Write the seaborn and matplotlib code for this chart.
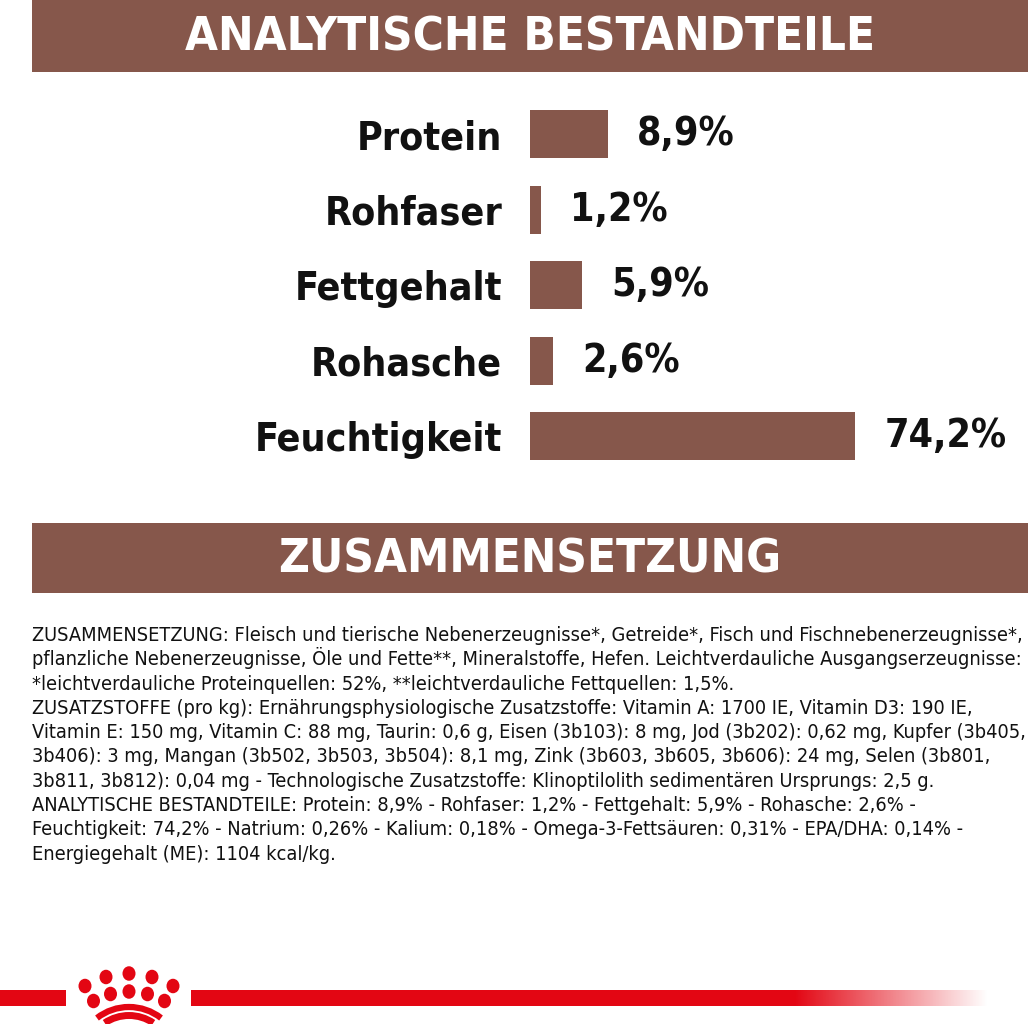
import numpy as np
import matplotlib
matplotlib.use('Agg')
import matplotlib.pyplot as plt
import seaborn as sns
from matplotlib import font_manager as fm
from matplotlib.patches import Rectangle, Ellipse, Arc

categories = ['Protein', 'Rohfaser', 'Fettgehalt', 'Rohasche', 'Feuchtigkeit']
values = [8.9, 1.2, 5.9, 2.6, 74.2]
value_labels = ['8,9%', '1,2%', '5,9%', '2,6%', '74,2%']

header_top = 'ANALYTISCHE BESTANDTEILE'
header_bottom = 'ZUSAMMENSETZUNG'
body_lines = [
    'ZUSAMMENSETZUNG: Fleisch und tierische Nebenerzeugnisse*, Getreide*, Fisch und Fischnebenerzeugnisse*,',
    'pflanzliche Nebenerzeugnisse, Öle und Fette**, Mineralstoffe, Hefen. Leichtverdauliche Ausgangserzeugnisse:',
    '*leichtverdauliche Proteinquellen: 52%, **leichtverdauliche Fettquellen: 1,5%.',
    'ZUSATZSTOFFE (pro kg): Ernährungsphysiologische Zusatzstoffe: Vitamin A: 1700 IE, Vitamin D3: 190 IE,',
    'Vitamin E: 150 mg, Vitamin C: 88 mg, Taurin: 0,6 g, Eisen (3b103): 8 mg, Jod (3b202): 0,62 mg, Kupfer (3b405,',
    '3b406): 3 mg, Mangan (3b502, 3b503, 3b504): 8,1 mg, Zink (3b603, 3b605, 3b606): 24 mg, Selen (3b801,',
    '3b811, 3b812): 0,04 mg - Technologische Zusatzstoffe: Klinoptilolith sedimentären Ursprungs: 2,5 g.',
    'ANALYTISCHE BESTANDTEILE: Protein: 8,9% - Rohfaser: 1,2% - Fettgehalt: 5,9% - Rohasche: 2,6% -',
    'Feuchtigkeit: 74,2% - Natrium: 0,26% - Kalium: 0,18% - Omega-3-Fettsäuren: 0,31% - EPA/DHA: 0,14% -',
    'Energiegehalt (ME): 1104 kcal/kg.',
]

brown = '#86574b'
red = '#e30613'
ink = '#111111'

sns.set_theme(style='white')


def has_font(name, condensed=False):
    for f in fm.fontManager.ttflist:
        if f.name == name and (not condensed or str(f.stretch) not in ('normal', '500')):
            return True
    return False


if has_font('DejaVu Sans', condensed=True):
    fam, stretch = 'DejaVu Sans', 'condensed'
elif has_font('DejaVu Sans Condensed'):
    fam, stretch = 'DejaVu Sans Condensed', 'normal'
elif has_font('Liberation Sans Narrow'):
    fam, stretch = 'Liberation Sans Narrow', 'normal'
else:
    fam, stretch = 'Roboto', 'normal'
plt.rcParams['font.family'] = [fam, 'DejaVu Sans']
plt.rcParams['font.stretch'] = stretch

fig = plt.figure(figsize=(10.28, 10.24), dpi=100)
renderer = fig.canvas.get_renderer()


def text_width(txt, size, weight='normal'):
    t = fig.text(0, 0, txt, fontsize=size, weight=weight, stretch=stretch)
    w = t.get_window_extent(renderer).width
    t.remove()
    return w


def fit_size(txt, target_px, weight='normal', base=20):
    return base * target_px / text_width(txt, base, weight)


# page layer in pixel coordinates
bg = fig.add_axes([0, 0, 1, 1])
bg.axis('off')

# headers
bg.add_patch(Rectangle((32, 0), 996, 72, color=brown, lw=0))
bg.add_patch(Rectangle((32, 523), 996, 70, color=brown, lw=0))
hs = fit_size(header_top, 690, 'bold')
bg.text(530, 38, header_top, color='white', fontsize=hs, weight='bold',
        ha='center', va='center', stretch=stretch)
bg.text(530, 560, header_bottom, color='white', fontsize=hs, weight='bold',
        ha='center', va='center', stretch=stretch)

# body text, sized so the widest line fits the page
widest = max(text_width(line, 20) for line in body_lines)
bs = 20 * 990 / widest
for i, line in enumerate(body_lines):
    bg.text(32, 641 + i * 24.3, line, color=ink, fontsize=bs,
            ha='left', va='baseline', stretch=stretch)

# red line with fade and crown logo
bg.add_patch(Rectangle((0, 990), 66, 16, color=red, lw=0))
bg.add_patch(Rectangle((191, 990), 605, 16, color=red, lw=0))
fade = np.zeros((1, 256, 4))
fade[..., :3] = matplotlib.colors.to_rgb(red)
fade[..., 3] = np.linspace(1, 0, 256)
bg.imshow(fade, extent=(795, 988, 1006, 990), aspect='auto', interpolation='bilinear')

dots = [(106, 977), (129, 973.5), (152, 977), (85, 986), (110.5, 994), (129, 991.5),
        (147.5, 994), (173, 986), (93.5, 1001), (164.5, 1001)]
for cx, cy in dots:
    bg.add_patch(Ellipse((cx, cy), 13, 14.5, color=red, lw=0))
bg.add_patch(Arc((129, 1059), 104, 104, theta1=232, theta2=308, color=red, lw=4.5))
bg.add_patch(Arc((129, 1059), 87, 87, theta1=236, theta2=304, color=red, lw=5))
bg.set_xlim(0, 1028)
bg.set_ylim(1024, 0)

# bar chart: linear up to 10 %, compressed beyond (as in the label)
px = 8.8
k = 0.42


def fwd(x):
    x = np.asarray(x, dtype=float)
    return np.where(x <= 10, x, 10 + (x - 10) * k)


def inv(y):
    y = np.asarray(y, dtype=float)
    return np.where(y <= 10, y, 10 + (y - 10) / k)


top, bottom = 96.75, 473.75
ax = fig.add_axes([530 / 1028, 1 - bottom / 1024, 498 / 1028, (bottom - top) / 1024])
ax.patch.set_alpha(0)
sns.barplot(x=values, y=categories, orient='h', color=brown, saturation=1,
            width=0.636, linewidth=0, ax=ax)
ax.set_xscale('function', functions=(fwd, inv))
ax.set_xlim(0, float(inv(498 / px)))
ax.set_ylim(4.5, -0.5)
sns.despine(ax=ax, left=True, bottom=True)
ax.set_xticks([])
ax.set_xlabel('')
ax.set_ylabel('')

ls = fit_size('Feuchtigkeit', 247, 'bold')
ax.tick_params(axis='y', length=0, pad=28 * 0.72, labelsize=ls, labelcolor=ink)
for lab in ax.get_yticklabels():
    lab.set_fontweight('bold')
    lab.set_fontstretch(stretch)

vs = fit_size('74,2%', 122, 'bold')
ax.bar_label(ax.containers[0], labels=value_labels, padding=29 * 0.72,
             fontsize=vs, fontweight='bold', color=ink, fontstretch=stretch)

fig.savefig('out.png', dpi=100)
